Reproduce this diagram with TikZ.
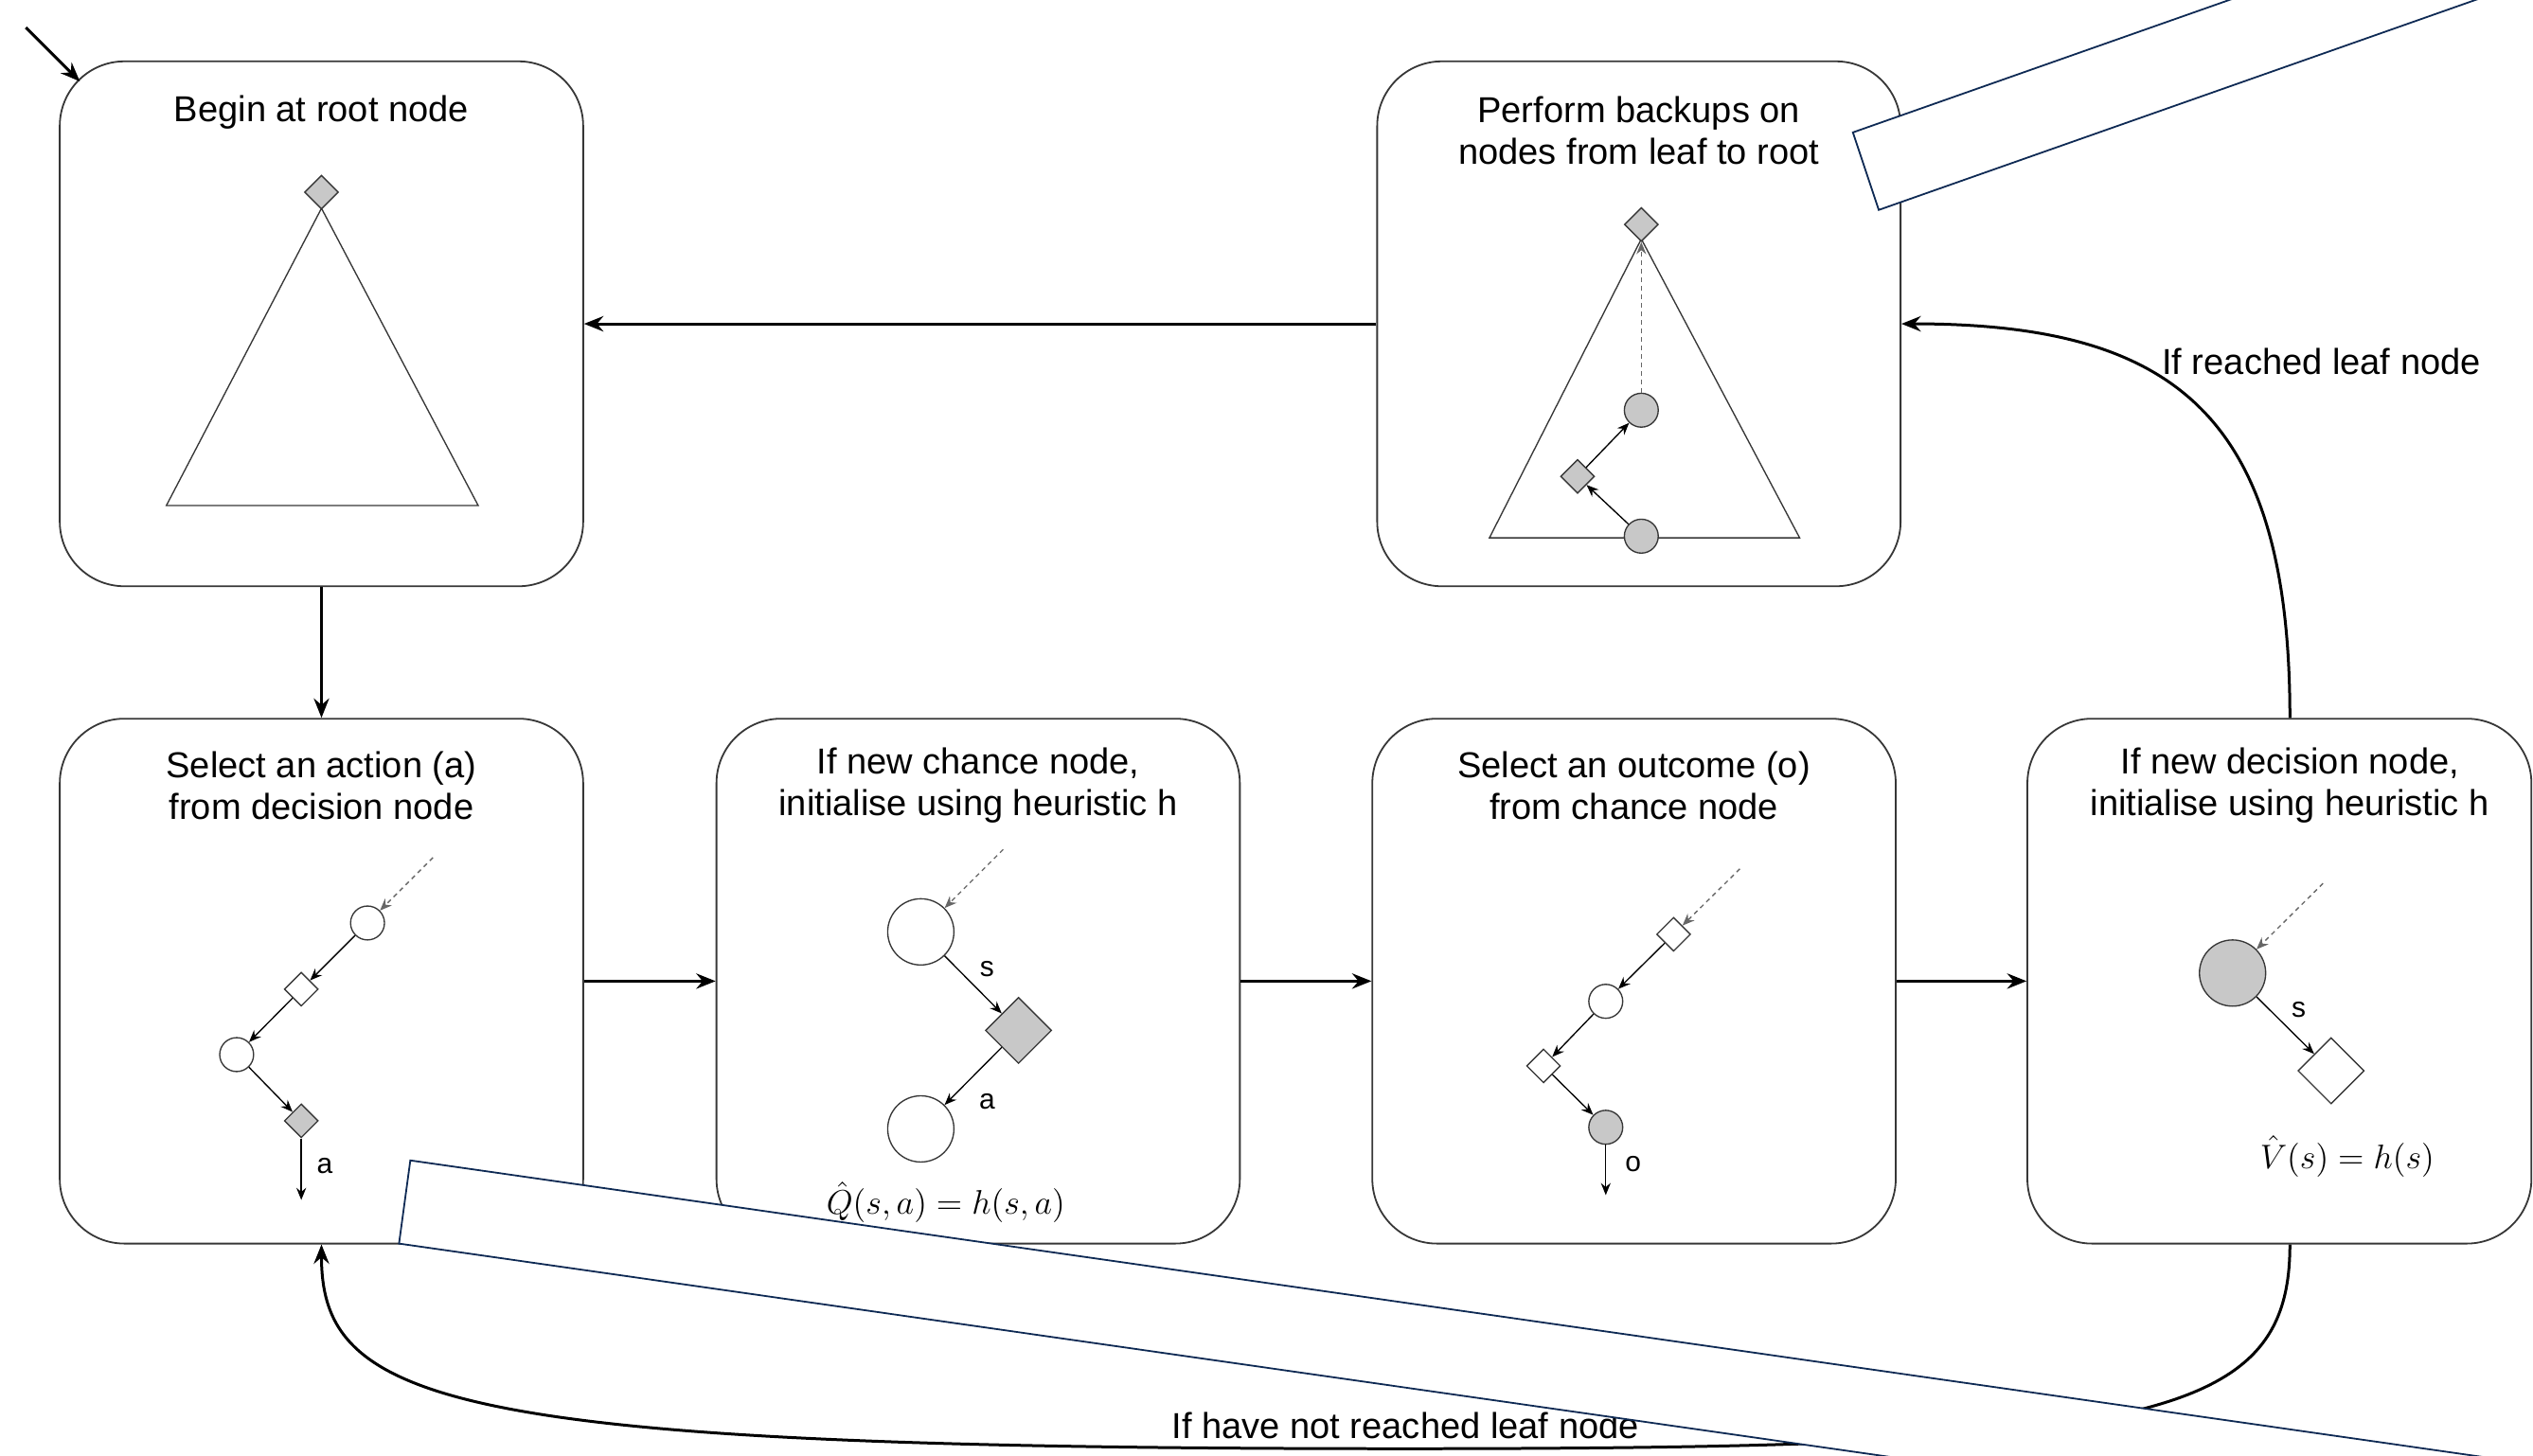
\documentclass[tikz,border=0pt]{standalone}
\usepackage{fontspec}
\setmainfont{Liberation Sans}
\usepackage{xcolor}
\usetikzlibrary{arrows.meta, positioning, shapes.geometric}
\definecolor{treegray}{RGB}{200,200,200}
\definecolor{boxline}{RGB}{55,55,55}
\definecolor{stripnavy}{RGB}{14,42,84}

\begin{document}
\begin{tikzpicture}[
  stage/.style={rectangle, rounded corners=0.8cm, draw=boxline, line width=0.6pt, minimum width=6.48cm, minimum height=6.5cm, inner sep=0pt},
  title/.style={align=center, font=\fontsize{12.7}{14.8}\selectfont, inner sep=1pt},
  flow/.style={-{Stealth[length=2.4mm, width=1.9mm, inset=0.8mm]}, line width=1pt},
  dnode/.style={circle, draw=boxline, fill=white, line width=0.45pt, minimum size=0.42cm, inner sep=0pt},
  cnode/.style={diamond, aspect=1, draw=boxline, fill=white, line width=0.45pt, minimum size=0.42cm, inner sep=0pt},
  big/.style={minimum size=0.82cm},
  shaded/.style={fill=treegray},
  tarr/.style={-{Stealth[length=1.5mm, width=1.2mm, inset=0.5mm]}, line width=0.45pt},
  tdash/.style={tarr, dash pattern=on 1.6pt off 1.4pt, draw=black!60},
  tree/.style={draw=boxline, line width=0.45pt},
  lbl/.style={font=\fontsize{10}{12}\selectfont, inner sep=1pt},
  eq/.style={font=\fontsize{12.7}{14.8}\selectfont, inner sep=1pt},
  strip/.style={draw=stripnavy, fill=white, line width=0.6pt}
]
\useasboundingbox (0,0) rectangle (31.36,18.02);

\node[stage] (root) at (3.98,14.01) {};
\node[stage] (backup) at (20.29,14.01) {};
\node[stage] (sel) at (3.98,5.87) {};
\node[stage] (chance) at (12.11,5.87) {};
\node[stage] (outcome) at (20.23,5.87) {};
\node[stage, minimum width=6.24cm] (decision) at (28.22,5.87) {};

\node[title] (rootT) at ([yshift=-0.64cm]root.north) {Begin at root node};
\node[title] (backupT) at ([yshift=-0.87cm]backup.north) {Perform backups on\\nodes from leaf to root};
\node[title] (selT) at ([yshift=-0.84cm]sel.north) {Select an action (a)\\from decision node};
\node[title] (chanceT) at ([yshift=-0.84cm]chance.north) {If new chance node,\\initialise using heuristic h};
\node[title] (outcomeT) at ([yshift=-0.84cm]outcome.north) {Select an outcome (o)\\from chance node};
\node[title] (decisionT) at ([xshift=0.13cm, yshift=-0.84cm]decision.north) {If new decision node,\\initialise using heuristic h};

\coordinate (rootA) at (3.98,15.44);
\coordinate (rootL) at (2.06,11.76);
\coordinate (rootR) at (5.92,11.76);
\draw[tree] (rootA) -- (rootL) -- (rootR) -- cycle;
\node[cnode, shaded] (rootD) at (3.98,15.64) {};

\coordinate (bkA) at (20.32,15.06);
\coordinate (bkL) at (18.44,11.36);
\coordinate (bkR) at (22.28,11.36);
\draw[tree] (bkA) -- (bkL) -- (bkR) -- cycle;
\node[cnode, shaded] (bkD) at (20.32,15.24) {};
\node[dnode, shaded] (bkC1) at (20.32,12.94) {};
\node[cnode, shaded] (bkD2) at (19.53,12.12) {};
\node[dnode, shaded] (bkC2) at (20.32,11.38) {};
\draw[tdash] (bkC1) -- (bkD);
\draw[tarr] (bkC2) -- (bkD2);
\draw[tarr] (bkD2) -- (bkC1);

\coordinate (selS) at (5.36,7.40);
\node[dnode] (selC1) at (4.55,6.59) {};
\node[cnode] (selD1) at (3.73,5.77) {};
\node[dnode] (selC2) at (2.93,4.96) {};
\node[cnode, shaded] (selD2) at (3.73,4.14) {};
\coordinate (selE) at (3.73,3.16);
\draw[tdash] (selS) -- (selC1);
\draw[tarr] (selC1) -- (selD1);
\draw[tarr] (selD1) -- (selC2);
\draw[tarr] (selC2) -- (selD2);
\draw[tarr] (selD2) -- (selE);
\node[lbl] (selA) at (4.02,3.58) {a};

\coordinate (chS) at (12.42,7.50);
\node[dnode, big] (chC1) at (11.40,6.48) {};
\node[cnode, big, shaded] (chD) at (12.61,5.26) {};
\node[dnode, big] (chC2) at (11.40,4.04) {};
\draw[tdash] (chS) -- (chC1);
\draw[tarr] (chC1) -- (chD);
\draw[tarr] (chD) -- (chC2);
\node[lbl] (chSl) at (12.22,6.02) {s};
\node[lbl] (chAl) at (12.22,4.38) {a};
\node[eq] (chEq) at (11.71,3.13) {$\hat{Q}(s,a) = h(s,a)$};

\coordinate (ocS) at (21.54,7.26);
\node[cnode] (ocD1) at (20.72,6.45) {};
\node[dnode] (ocC1) at (19.88,5.62) {};
\node[cnode] (ocD2) at (19.11,4.82) {};
\node[dnode, shaded] (ocC2) at (19.88,4.06) {};
\coordinate (ocE) at (19.88,3.22);
\draw[tdash] (ocS) -- (ocD1);
\draw[tarr] (ocD1) -- (ocC1);
\draw[tarr] (ocC1) -- (ocD2);
\draw[tarr] (ocD2) -- (ocC2);
\draw[tarr] (ocC2) -- (ocE);
\node[lbl] (ocO) at (20.22,3.60) {o};

\coordinate (dcS) at (28.76,7.08);
\node[dnode, big, shaded] (dcC) at (27.64,5.97) {};
\node[cnode, big] (dcD) at (28.86,4.76) {};
\draw[tdash] (dcS) -- (dcC);
\draw[tarr] (dcC) -- (dcD);
\node[lbl] (dcSl) at (28.46,5.51) {s};
\node[eq] (dcEq) at (29.06,3.70) {$\hat{V}(s) = h(s)$};

\coordinate (start) at (0.32,17.68);
\draw[flow] (start) -- ([shift={(0.26,-0.26)}]root.north west);
\draw[flow] (backup) -- (root);
\draw[flow] (root) -- (sel);
\draw[flow] (sel) -- (chance);
\draw[flow] (chance) -- (outcome);
\draw[flow] (outcome) -- (decision);
\draw[flow] ([xshift=0.13cm]decision.north) .. controls (28.35,12.9) and (26.9,14.01) .. (backup.east);
\node[title] (reachedL) at (28.74,13.54) {If reached leaf node};
\draw[flow] ([xshift=0.13cm]decision.south) .. controls (28.35,0.42) and (26.6,0.08) .. (17.4,0.08) .. controls (5.6,0.08) and (3.98,0.62) .. (sel.south);
\node[title] (notReachedL) at (17.4,0.36) {If have not reached leaf node};

\begin{scope}
\clip (0,0) rectangle (31.36,18.02);
\draw[strip] (22.94,16.38) -- (32.94,19.90) -- (33.26,18.94) -- (23.26,15.42) -- cycle;
\draw[strip] (5.08,3.65) -- (37.08,-0.93) -- (36.94,-1.96) -- (4.94,2.62) -- cycle;
\end{scope}
\end{tikzpicture}
\end{document}
